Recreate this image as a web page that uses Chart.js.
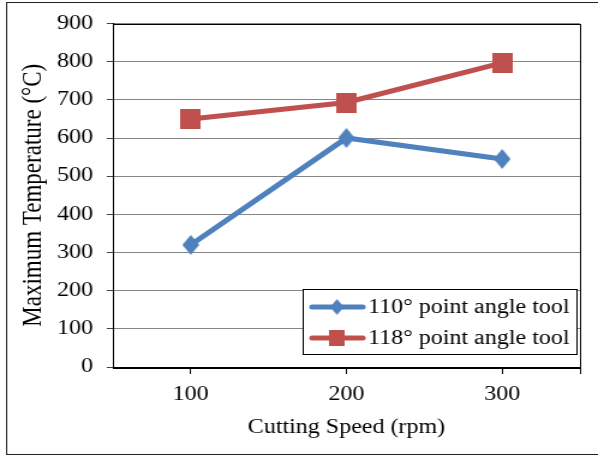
<!DOCTYPE html>
<html>
<head>
<meta charset="utf-8">
<script src="https://cdn.jsdelivr.net/npm/chart.js@4"></script>
<style>
html, body { margin: 0; padding: 0; background: #fff; overflow: hidden; }
/* the original figure is stretched sideways, so the chart is drawn narrow and widened */
#wrap { position: absolute; left: 0; top: 0; width: 498px; height: 455px;
        transform: scaleX(1.2008); transform-origin: 0 0; }
</style>
</head>
<body>
<div id="wrap"><canvas id="myChart"></canvas></div>
<script>
const speeds = [100, 200, 300];
const tool110 = [320, 600, 545];
const tool118 = [650, 693, 797];
const seriesNames = ['110° point angle tool', '118° point angle tool'];

const FONT = "'Liberation Serif', 'Times New Roman', serif";

// little canvases used as point markers (narrowed to undo the stretch)
function marker(shape, w, h, color) {
    const c = document.createElement('canvas');
    c.width = w;
    c.height = h;
    const g = c.getContext('2d');
    g.fillStyle = color;
    if (shape === 'diamond') {
        g.beginPath();
        g.moveTo(w / 2, 0);
        g.lineTo(w, h / 2);
        g.lineTo(w / 2, h);
        g.lineTo(0, h / 2);
        g.closePath();
        g.fill();
    } else {
        g.fillRect(0, 0, w, h);
    }
    return c;
}

const blue = '#4F81BD';
const red = '#C0504D';

const toPoints = vals => speeds.map((s, i) => ({x: s, y: vals[i]}));

const frame = {
    id: 'frame',
    beforeDraw(chart) {
        const ctx = chart.ctx;
        ctx.save();
        ctx.strokeStyle = '#222';
        ctx.lineWidth = 1;
        ctx.strokeRect(5.5, 2.5, 600, 452);
        ctx.restore();
    },
    beforeDatasetsDraw(chart) {
        const a = chart.chartArea;
        const ctx = chart.ctx;
        ctx.save();
        ctx.strokeStyle = '#000';
        ctx.lineWidth = 1;
        ctx.strokeRect(Math.round(a.left) + 0.5, Math.round(a.top) + 0.5,
            Math.round(a.right - a.left), Math.round(a.bottom - a.top));
        ctx.restore();
    }
};

const boxLegend = {
    id: 'boxLegend',
    afterDraw(chart) {
        const ctx = chart.ctx;
        ctx.save();
        ctx.fillStyle = '#fff';
        ctx.fillRect(252.5, 289.5, 228, 65);
        ctx.strokeStyle = '#000';
        ctx.lineWidth = 1;
        ctx.strokeRect(252.5, 289.5, 228, 65);
        const rows = [307, 338];
        chart.data.datasets.forEach((ds, i) => {
            const y = rows[i];
            ctx.strokeStyle = ds.borderColor;
            ctx.lineWidth = 5;
            ctx.lineCap = 'round';
            ctx.beginPath();
            ctx.moveTo(260, y);
            ctx.lineTo(302, y);
            ctx.stroke();
            const img = ds.pointStyle;
            const w = img.width * 0.8, h = img.height * 0.8;
            ctx.drawImage(img, 280.6 - w / 2, y - h / 2, w, h);
            ctx.fillStyle = '#000';
            ctx.font = '20px ' + FONT;
            ctx.textBaseline = 'middle';
            ctx.textAlign = 'left';
            ctx.fillText(ds.label, 306.5, y + 1);
        });
        ctx.restore();
    }
};

new Chart(document.getElementById('myChart'), {
    type: 'line',
    data: {
        datasets: [
            {
                label: seriesNames[0],
                data: toPoints(tool110),
                borderColor: blue,
                backgroundColor: blue,
                borderWidth: 5,
                pointStyle: marker('diamond', 14, 20, blue),
                pointRadius: 10,
                fill: false
            },
            {
                label: seriesNames[1],
                data: toPoints(tool118),
                borderColor: red,
                backgroundColor: red,
                borderWidth: 5,
                pointStyle: marker('square', 17, 20, red),
                pointRadius: 10,
                fill: false
            }
        ]
    },
    options: {
        responsive: true,
        maintainAspectRatio: false,
        animation: false,
        layout: { padding: { left: 7, top: 23, right: 10.8, bottom: 0 } },
        plugins: {
            legend: { display: false },
            tooltip: { enabled: false }
        },
        scales: {
            x: {
                type: 'linear',
                min: 50,
                max: 350,
                afterBuildTicks: scale => {
                    scale.ticks = [50, ...speeds, 350].map(v => ({value: v}));
                },
                afterFit: scale => { scale.height = 88; },
                ticks: {
                    autoSkip: false,
                    maxRotation: 0,
                    padding: 9,
                    color: '#000',
                    font: { family: FONT, size: 20 },
                    callback: v => speeds.includes(v) ? String(v) : ''
                },
                grid: {
                    drawOnChartArea: false,
                    tickLength: 7,
                    tickColor: c => c.tick && c.tick.value === 50 ? 'rgba(0,0,0,0)' : '#000'
                },
                border: { display: true, color: '#000', width: 1 },
                title: {
                    display: true,
                    text: 'Cutting Speed (rpm)',
                    color: '#000',
                    font: { family: FONT, size: 20 },
                    padding: { top: 0, bottom: 15 }
                }
            },
            y: {
                min: 0,
                max: 900,
                afterFit: scale => { scale.width = 87; },
                ticks: {
                    stepSize: 100,
                    padding: 11.5,
                    color: '#000',
                    font: { family: FONT, size: 20 }
                },
                grid: {
                    color: '#868686',
                    tickLength: 5,
                    tickColor: '#444'
                },
                border: { display: true, color: '#000', width: 1 },
                title: {
                    display: true,
                    text: 'Maximum Temperature (°C)',
                    color: '#000',
                    font: { family: FONT, size: 23 },
                    padding: { top: 7, bottom: 0 }
                }
            }
        }
    },
    plugins: [frame, boxLegend]
});
</script>
</body>
</html>
